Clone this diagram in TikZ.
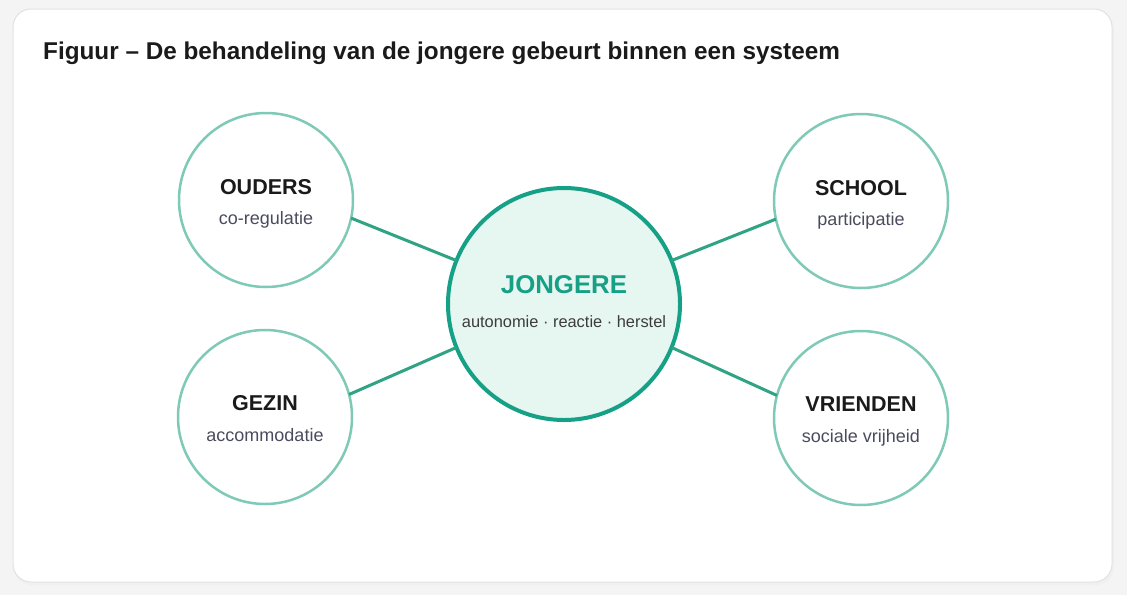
\documentclass[tikz,border=0pt]{standalone}
\usepackage{fontspec}
\setmainfont{Liberation Sans}
\definecolor{pagebg}{HTML}{F4F4F4}
\definecolor{cardborder}{HTML}{E2E2E2}
\definecolor{tealdark}{HTML}{16A085}
\definecolor{tealfill}{HTML}{E6F6F1}
\definecolor{teallight}{HTML}{7FCAB7}
\definecolor{tealline}{HTML}{2FA383}
\definecolor{titlecol}{HTML}{1A1A1A}
\definecolor{subcol}{HTML}{4A4B5E}
\tikzset{
  hub/.style={circle, draw=tealdark, line width=4pt, fill=tealfill, minimum size=232pt, inner sep=0pt, outer sep=0pt},
  satellite/.style={circle, draw=teallight, line width=2.5pt, fill=white, minimum size=174pt, inner sep=0pt, outer sep=0pt},
  link/.style={draw=tealline, line width=3pt},
  sattitle/.style={anchor=base, text=titlecol, font=\fontsize{21.5}{25}\selectfont\bfseries},
  satsub/.style={anchor=base, text=subcol, font=\fontsize{18}{22}\selectfont},
}
\begin{document}
\begin{tikzpicture}[x=1pt, y=-1pt]
\useasboundingbox (0,0) rectangle (1127,595);
\fill[pagebg] (0,0) rectangle (1127,595);
\fill[black!6, rounded corners=18pt] (14,12) rectangle (1114,585);
\filldraw[fill=white, draw=cardborder, line width=1pt, rounded corners=18pt] (13,9) rectangle (1112,582);
\node[anchor=base west, text=titlecol, font=\fontsize{24.3}{28}\selectfont\bfseries, inner sep=0pt] (title) at (43,59) {Figuur – De behandeling van de jongere gebeurt binnen een systeem};

\node[hub] (hub) at (564,304) {};
\node[satellite] (ouders) at (266,200) {};
\node[satellite] (gezin) at (265,417) {};
\node[satellite] (school) at (861,201) {};
\node[satellite] (vrienden) at (861,418) {};

\draw[link] (ouders.-12) -- (hub.158);
\draw[link] (gezin.15) -- (hub.202);
\draw[link] (school.192) -- (hub.22);
\draw[link] (vrienden.165) -- (hub.-22);

\node[anchor=base, text=tealdark, font=\fontsize{25.8}{30}\selectfont\bfseries] (hubtitle) at (564,293) {JONGERE};
\node[anchor=base, text=titlecol!85, font=\fontsize{16.4}{20}\selectfont] (hubsub) at (564,327) {autonomie · reactie · herstel};

\node[sattitle] (oudt) at (266,194) {OUDERS};
\node[satsub] (ouds) at (266,224) {co-regulatie};
\node[sattitle] (gezt) at (265,410) {GEZIN};
\node[satsub] (gezs) at (265,441) {accommodatie};
\node[sattitle] (scht) at (861,195) {SCHOOL};
\node[satsub] (schs) at (861,225) {participatie};
\node[sattitle] (vrit) at (861,411) {VRIENDEN};
\node[satsub] (vris) at (861,442) {sociale vrijheid};
\end{tikzpicture}
\end{document}
